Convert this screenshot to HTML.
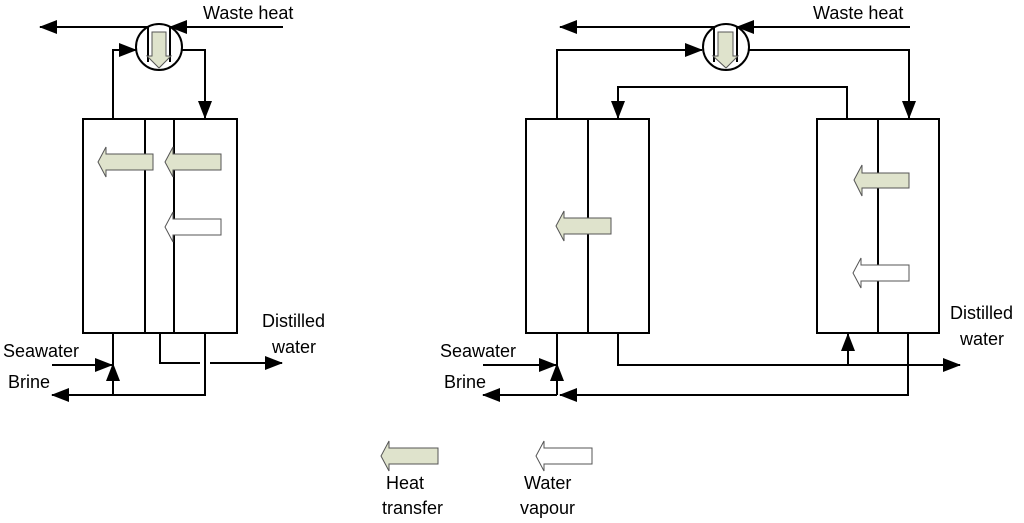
<!DOCTYPE html>
<html><head><meta charset="utf-8"><style>
html,body{margin:0;padding:0;background:#fff;}
svg{display:block;}
text{font-family:"Liberation Sans",sans-serif;font-size:18px;fill:#000;}
</style></head><body>
<svg width="1024" height="523" viewBox="0 0 1024 523" xmlns="http://www.w3.org/2000/svg">
<defs>
<marker id="a" viewBox="0 0 18 14" refX="17" refY="7" markerWidth="18" markerHeight="14" markerUnits="userSpaceOnUse" orient="auto">
<path d="M0,0 L18,7 L0,14 Z" fill="#000"/></marker>
</defs>
<g stroke="#000" stroke-width="2" fill="none">
<rect x="83" y="119" width="154" height="214"/>
<line x1="145" y1="119" x2="145" y2="333"/>
<line x1="174" y1="119" x2="174" y2="333"/>
<circle cx="159" cy="47" r="23"/>
<line x1="148" y1="27" x2="40" y2="27" marker-end="url(#a)"/>
<line x1="283" y1="27" x2="170" y2="27" marker-end="url(#a)"/>
<line x1="148" y1="26" x2="148" y2="62"/>
<line x1="170" y1="26" x2="170" y2="62"/>
<polyline points="113,119 113,50 136,50" marker-end="url(#a)"/>
<polyline points="182,50 205,50 205,118" marker-end="url(#a)"/>
<line x1="113" y1="333" x2="113" y2="395"/>
<line x1="113" y1="395" x2="113" y2="364" marker-end="url(#a)"/>
<line x1="52" y1="365" x2="112" y2="365" marker-end="url(#a)"/>
<polyline points="205,333 205,395 52,395" marker-end="url(#a)"/>
<polyline points="160,333 160,363 200,363"/>
<line x1="210" y1="363" x2="282" y2="363" marker-end="url(#a)"/>
<rect x="526" y="119" width="123" height="214"/>
<line x1="588" y1="119" x2="588" y2="333"/>
<rect x="817" y="119" width="122" height="214"/>
<line x1="878" y1="119" x2="878" y2="333"/>
<circle cx="726" cy="47" r="23"/>
<line x1="714" y1="27" x2="560" y2="27" marker-end="url(#a)"/>
<line x1="910" y1="27" x2="737" y2="27" marker-end="url(#a)"/>
<line x1="714" y1="26" x2="714" y2="62"/>
<line x1="737" y1="26" x2="737" y2="62"/>
<polyline points="557,119 557,50 702,50" marker-end="url(#a)"/>
<polyline points="749,50 909,50 909,118" marker-end="url(#a)"/>
<polyline points="847,119 847,87 618,87 618,118" marker-end="url(#a)"/>
<line x1="557" y1="333" x2="557" y2="395"/>
<line x1="557" y1="395" x2="557" y2="364" marker-end="url(#a)"/>
<line x1="483" y1="365" x2="556" y2="365" marker-end="url(#a)"/>
<line x1="557" y1="395" x2="483" y2="395" marker-end="url(#a)"/>
<polyline points="908,333 908,395 560,395" marker-end="url(#a)"/>
<polyline points="618,333 618,365 960,365" marker-end="url(#a)"/>
<line x1="848" y1="365" x2="848" y2="334" marker-end="url(#a)"/>
</g>
<g stroke="#555" stroke-width="1">
<path d="M98,162 L106,147 L106,154 L153,154 L153,170 L106,170 L106,177 Z" fill="#dfe3cc"/>
<path d="M165,162 L173,147 L173,154 L221,154 L221,170 L173,170 L173,177 Z" fill="#dfe3cc"/>
<path d="M165,227 L173,212 L173,219 L221,219 L221,235 L173,235 L173,242 Z" fill="#fff"/>
<path d="M556,226 L564,211 L564,218 L611,218 L611,234 L564,234 L564,241 Z" fill="#dfe3cc"/>
<path d="M854,180 L862,165 L862,173 L909,173 L909,188 L862,188 L862,196 Z" fill="#dfe3cc"/>
<path d="M853,273 L861,258 L861,265 L909,265 L909,281 L861,281 L861,288 Z" fill="#fff"/>
<path d="M381,456 L389,441 L389,448 L438,448 L438,464 L389,464 L389,471 Z" fill="#dfe3cc"/>
<path d="M536,456 L544,441 L544,448 L592,448 L592,464 L544,464 L544,471 Z" fill="#fff"/>
<path d="M152,32 L166,32 L166,56 L171,56 L159,68 L147,56 L152,56 Z" fill="#dfe3cc"/>
<path d="M718,32 L733,32 L733,56 L738,56 L726,68 L713,56 L718,56 Z" fill="#dfe3cc"/>
</g>
<text x="203" y="19">Waste heat</text>
<text x="813" y="19">Waste heat</text>
<text x="3" y="357">Seawater</text>
<text x="8" y="388">Brine</text>
<text x="262" y="327">Distilled</text>
<text x="272" y="353">water</text>
<text x="440" y="357">Seawater</text>
<text x="444" y="388">Brine</text>
<text x="950" y="319">Distilled</text>
<text x="960" y="345">water</text>
<text x="386" y="489">Heat</text>
<text x="382" y="514">transfer</text>
<text x="524" y="489">Water</text>
<text x="520" y="514">vapour</text>
</svg>
</body></html>
